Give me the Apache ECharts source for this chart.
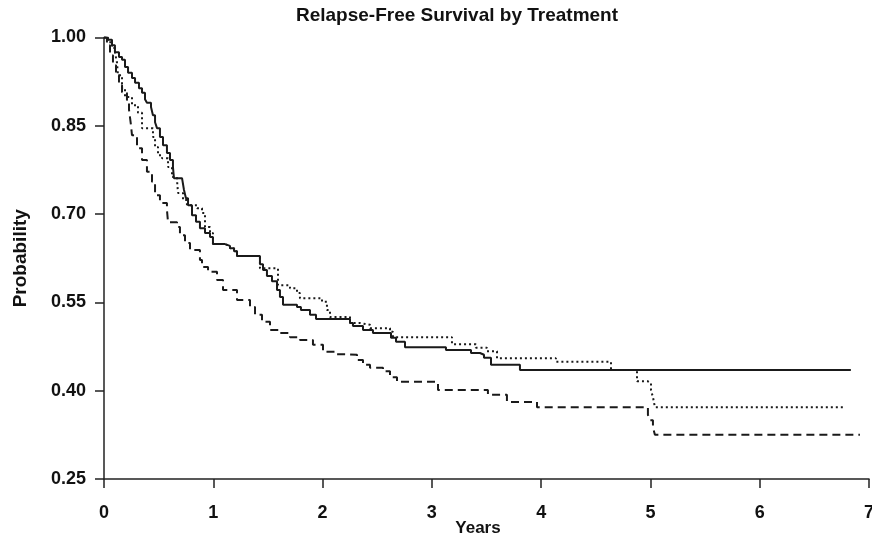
<!DOCTYPE html>
<html>
<head>
<meta charset="utf-8">
<script src="https://cdn.jsdelivr.net/npm/echarts@6/dist/echarts.min.js"></script>
<style>
html,body{margin:0;padding:0;background:#fff;}
#chart{width:872px;height:542px;}
</style>
</head>
<body>
<div id="chart"></div>
<script>
var titleText = 'Relapse-Free Survival by Treatment';
var xName = 'Years';
var yName = 'Probability';
var yTicks = [0.25, 0.40, 0.55, 0.70, 0.85, 1.00];
var xTicks = [0, 1, 2, 3, 4, 5, 6, 7];

var solidT = [0,0.037,0.073,0.10,0.137,0.165,0.192,0.22,0.256,0.284,0.32,0.348,0.375,0.393,0.43,0.448,0.467,0.485,0.512,0.54,0.576,0.604,0.631,0.64,0.714,0.732,0.75,0.769,0.805,0.842,0.878,0.924,0.97,0.997,1.107,1.153,1.19,1.217,1.427,1.455,1.491,1.537,1.583,1.61,1.638,1.766,1.802,1.885,1.94,2.251,2.278,2.37,2.461,2.626,2.672,2.754,3.129,3.358,3.44,3.477,3.541,3.806,6.834];
var solidS = [1.00,0.996,0.987,0.975,0.967,0.962,0.95,0.94,0.931,0.923,0.914,0.906,0.895,0.889,0.882,0.868,0.856,0.846,0.831,0.817,0.804,0.792,0.78,0.761,0.758,0.741,0.727,0.715,0.698,0.687,0.676,0.668,0.661,0.649,0.646,0.642,0.637,0.629,0.615,0.605,0.595,0.586,0.571,0.559,0.546,0.542,0.537,0.529,0.522,0.515,0.51,0.503,0.498,0.49,0.483,0.474,0.469,0.464,0.461,0.456,0.444,0.435,0.435];

var dottedT = [0,0.037,0.073,0.101,0.119,0.128,0.165,0.192,0.256,0.311,0.348,0.448,0.467,0.494,0.531,0.586,0.622,0.668,0.677,0.723,0.759,0.851,0.897,0.924,0.970,0.997,1.107,1.153,1.19,1.217,1.427,1.592,1.702,1.766,1.793,1.995,2.040,2.068,2.251,2.342,2.434,2.617,2.644,3.184,3.403,3.504,3.596,4.135,4.639,4.877,4.977,5.005,5.023,5.041,6.779];
var dottedS = [1.0,0.992,0.982,0.974,0.957,0.936,0.914,0.899,0.885,0.872,0.846,0.831,0.814,0.800,0.795,0.780,0.763,0.758,0.736,0.724,0.715,0.710,0.702,0.678,0.668,0.649,0.646,0.642,0.637,0.629,0.608,0.579,0.574,0.566,0.557,0.551,0.537,0.525,0.515,0.512,0.506,0.500,0.491,0.479,0.473,0.467,0.455,0.449,0.435,0.416,0.413,0.401,0.389,0.372,0.372];

var dashedT = [0,0.027,0.055,0.082,0.110,0.137,0.165,0.210,0.229,0.247,0.256,0.302,0.348,0.393,0.439,0.467,0.512,0.576,0.586,0.668,0.695,0.741,0.787,0.878,0.897,0.952,1.034,1.089,1.217,1.336,1.382,1.446,1.519,1.610,1.702,1.793,1.912,2.004,2.132,2.223,2.315,2.370,2.434,2.553,2.617,2.681,3.056,3.513,3.687,3.962,4.977,4.995,5.023,5.041,6.917];
var dashedS = [1.0,0.987,0.970,0.953,0.936,0.919,0.907,0.894,0.877,0.851,0.834,0.812,0.792,0.772,0.755,0.732,0.719,0.707,0.686,0.678,0.664,0.651,0.639,0.622,0.610,0.602,0.588,0.571,0.554,0.542,0.529,0.517,0.503,0.498,0.491,0.486,0.478,0.466,0.462,0.461,0.452,0.444,0.439,0.433,0.423,0.415,0.401,0.393,0.381,0.372,0.359,0.350,0.338,0.325,0.325];

function pairs(t, s) { return t.map(function (v, i) { return [v, s[i]]; }); }

var FONT = '"Liberation Sans", Arial, sans-serif';
var chart = echarts.init(document.getElementById('chart'), null, {renderer: 'canvas'});
var axisCommon = {
  axisLine: {show: true, onZero: false, lineStyle: {color: '#222', width: 1.5}},
  axisTick: {show: true, inside: false, length: 9, lineStyle: {color: '#222', width: 1.5}},
  splitLine: {show: false}
};
chart.setOption({
  animation: false,
  backgroundColor: '#fff',
  grid: {left: 104, right: 3, top: 37.5, bottom: 63, containLabel: false, outerBoundsMode: 'none'},
  graphic: [{
    type: 'text', x: 457, y: 6,
    style: {text: titleText, font: 'bold 19px ' + FONT, fill: '#111', textAlign: 'center', textVerticalAlign: 'top'}
  }, {
    type: 'text', x: 478, y: 528,
    style: {text: xName, font: 'bold 17px ' + FONT, fill: '#111', textAlign: 'center', textVerticalAlign: 'middle'}
  }],
  xAxis: Object.assign({
    type: 'value', min: xTicks[0], max: xTicks[xTicks.length - 1], interval: 1,
    axisLabel: {fontFamily: FONT, fontWeight: 'bold', fontSize: 18, color: '#111', margin: 25}
  }, axisCommon),
  yAxis: Object.assign({
    type: 'value', min: yTicks[0], max: yTicks[yTicks.length - 1], interval: 0.15,
    name: yName, nameLocation: 'middle', nameGap: 74, nameRotate: 90,
    nameTextStyle: {fontFamily: FONT, fontWeight: 'bold', fontSize: 19, color: '#111'},
    axisLabel: {fontFamily: FONT, fontWeight: 'bold', fontSize: 18, color: '#111', margin: 18,
      formatter: function (v) { return v.toFixed(2); }}
  }, axisCommon),
  series: [
    {name: 'Solid', type: 'line', step: 'end', showSymbol: false, data: pairs(solidT, solidS),
      lineStyle: {color: '#1a1a1a', width: 2, type: 'solid'}},
    {name: 'Dotted', type: 'line', step: 'end', showSymbol: false, data: pairs(dottedT, dottedS),
      lineStyle: {color: '#1a1a1a', width: 2, type: [2, 3]}},
    {name: 'Dashed', type: 'line', step: 'end', showSymbol: false, data: pairs(dashedT, dashedS),
      lineStyle: {color: '#1a1a1a', width: 2, type: [8, 5]}}
  ]
});
</script>
</body>
</html>
